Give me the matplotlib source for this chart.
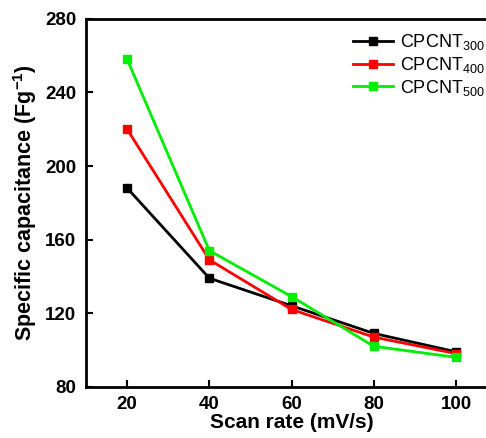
import numpy as np
import matplotlib.pyplot as plt

plt.rcParams['font.family'] = ['Liberation Sans', 'DejaVu Sans']
plt.rcParams['mathtext.fontset'] = 'custom'
plt.rcParams['mathtext.rm'] = 'Liberation Sans'
plt.rcParams['mathtext.bf'] = 'Liberation Sans:bold'

scan_rate = [20, 40, 60, 80, 100]
cpcnt300 = [188, 139, 124, 109, 99]
cpcnt400 = [220, 149, 122, 107, 98]
cpcnt500 = [258, 154, 129, 102, 96]

fig = plt.figure(figsize=(4.86, 4.38), dpi=100)
ax = fig.add_axes([0.177, 0.117, 0.846, 0.840])

ax.plot(scan_rate, cpcnt300, color='black', lw=2, marker='s', ms=6, label=r'CPCNT$\mathregular{_{300}}$')
ax.plot(scan_rate, cpcnt400, color='red', lw=2, marker='s', ms=6, label=r'CPCNT$\mathregular{_{400}}$')
ax.plot(scan_rate, cpcnt500, color='#00ee00', lw=2, marker='s', ms=6, label=r'CPCNT$\mathregular{_{500}}$')

ax.set_xlim(10, 110)
ax.set_ylim(80, 280)
ax.set_xticks(scan_rate)
ax.set_yticks([80, 120, 160, 200, 240, 280])
ax.tick_params(direction='in', length=5, width=1.5, labelsize=13.5, pad=7, top=False, right=False)
for lab in ax.get_xticklabels() + ax.get_yticklabels():
    lab.set_fontweight('bold')
for s in ax.spines.values():
    s.set_linewidth(2)

ax.set_xlabel('Scan rate (mV/s)', fontsize=15, fontweight='bold', labelpad=0)
ax.set_ylabel(r'Specific capacitance (Fg$\mathregular{^{-1}}$)', fontsize=15.5, fontweight='bold', labelpad=4)

ax.legend(loc='upper left', bbox_to_anchor=(0.61, 1.008), frameon=False, fontsize=13,
          handlelength=2.2, handletextpad=0.4, labelspacing=0.15)

plt.savefig('out.png', dpi=100)
